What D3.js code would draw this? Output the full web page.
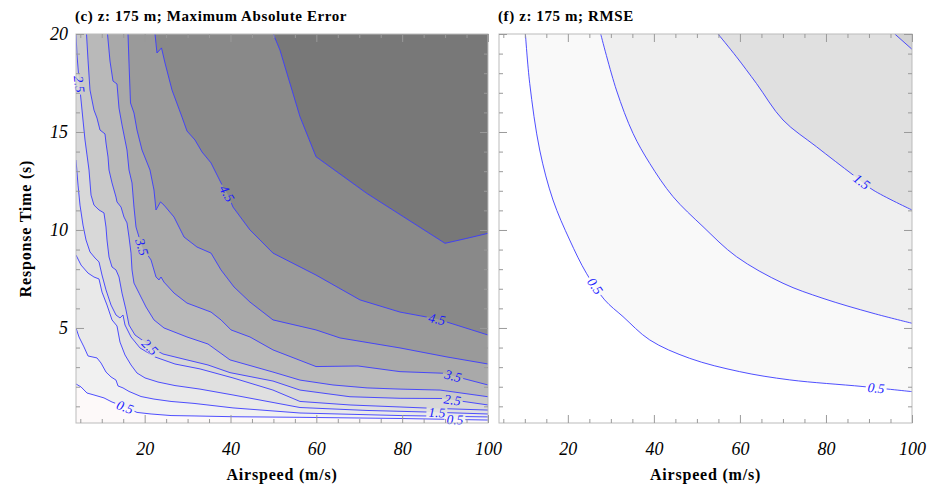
<!DOCTYPE html>
<html>
<head>
<meta charset="utf-8">
<script src="https://cdn.jsdelivr.net/npm/d3@7"></script>
<style>
  body { margin: 0; background: #fff; }
  text { font-family: "Liberation Serif", "Times New Roman", serif; }
</style>
</head>
<body>
<svg id="chart" width="932" height="485"></svg>
<script>
// axes
const speedDomain = [4, 100];
const timeDomain = [0.15, 20];
const speedTicks = [20, 40, 60, 80, 100];
const timeTicks = [5, 10, 15, 20];

// (c) maximum absolute error, contour lines as [airspeed, response time]
const maeLevels = [0.5, 1, 1.5, 2, 2.5, 3, 3.5, 4, 4.5, 5];
const mae05 = [[4.0,2.14],[5.17,1.99],[6.56,1.68],[8.19,1.58],[10.52,1.43],[12.39,1.22],[15.42,0.97],[18.21,0.69],[21.48,0.61],[26.14,0.53],[31.50,0.51],[40.58,0.47],[56.19,0.44],[79.50,0.38],[100,0.30]];
const mae10 = [[4.0,5.00],[4.70,4.54],[5.86,4.03],[6.80,3.57],[8.89,3.47],[9.83,3.21],[10.99,2.75],[12.16,2.50],[13.32,2.34],[13.79,2.04],[14.95,1.94],[16.35,1.76],[19.15,1.50],[22.17,1.37],[26.14,1.25],[31.50,1.15],[40.58,0.92],[56.19,0.66],[79.50,0.53],[100,0.46]];
const mae15 = [[4.0,8.72],[5.17,8.21],[6.80,7.80],[8.19,7.60],[9.36,7.50],[10.06,6.83],[11.22,6.17],[12.39,5.41],[13.55,5.10],[14.25,4.28],[15.42,3.62],[16.82,3.11],[18.21,2.70],[20.08,2.45],[23.11,2.24],[27.07,2.06],[32.89,1.88],[40.58,1.58],[56.19,0.94],[71.81,0.79],[85.79,0.71],[100,0.61]];
const mae20 = [[4.0,13.57],[4.47,12.29],[4.93,11.27],[5.63,10.25],[6.33,9.49],[7.26,8.88],[8.43,8.57],[9.36,8.37],[10.06,7.70],[10.99,6.94],[12.16,6.17],[13.32,5.66],[14.25,5.51],[14.95,5.66],[15.42,5.15],[16.82,4.54],[18.91,3.98],[22.41,3.52],[27.07,3.16],[32.89,2.91],[40.58,2.45],[49.90,1.83],[56.19,1.25],[67.84,1.07],[87.19,0.90],[100,0.81]];
const mae25 = [[4.0,20],[4.23,18.93],[4.70,17.65],[5.17,16.63],[5.63,15.61],[6.10,14.59],[6.56,13.83],[7.03,13.06],[7.50,11.78],[8.19,11.27],[9.36,11.02],[10.52,10.87],[10.99,10.15],[11.22,9.49],[11.69,8.62],[12.39,8.11],[13.32,7.96],[14.02,7.60],[14.72,6.78],[15.65,5.92],[16.35,5.15],[17.75,4.64],[20.08,4.28],[21.24,4.03],[24.27,3.67],[29.86,3.37],[34.76,3.11],[39.88,2.72],[49.90,2.29],[56.19,1.83],[67.84,1.49],[79.50,1.41],[89.52,1.40],[100,1.07]];
const mae30 = [[6.45,20],[6.80,18.67],[7.26,17.14],[8.19,16.12],[8.89,15.71],[9.59,15.10],[10.76,14.90],[10.99,14.44],[11.46,13.72],[11.69,13.06],[12.39,12.40],[13.32,11.68],[13.55,11.43],[14.49,11.17],[15.18,10.66],[15.88,10.36],[16.35,9.64],[16.82,8.82],[17.05,7.96],[17.51,7.29],[18.68,6.78],[20.31,6.07],[22.17,5.41],[24.50,5.00],[29.86,4.54],[34.76,4.18],[39.88,3.37],[49.90,2.75],[56.19,2.34],[63.88,2.09],[71.81,1.94],[79.50,1.88],[88.82,1.83],[100,1.49]];
const mae35 = [[11.34,20],[11.92,18.62],[12.62,17.60],[13.55,17.45],[14.02,16.22],[14.72,15.36],[15.42,14.59],[15.88,14.08],[16.35,13.06],[17.05,12.40],[17.51,11.17],[17.98,10.15],[19.38,9.13],[21.48,8.47],[22.64,7.60],[23.34,7.45],[23.81,7.60],[24.50,7.34],[26.84,6.78],[29.86,6.27],[35.46,5.81],[37.79,5.41],[40.12,4.90],[44.54,4.54],[49.90,3.88],[59.92,3.03],[69.71,3.06],[79.50,2.77],[89.52,2.69],[100,2.09]];
const mae40 = [[16.12,20],[16.35,18.52],[16.70,16.48],[17.51,15.97],[18.21,15.10],[19.38,14.08],[21.24,13.06],[22.17,12.04],[22.64,11.02],[23.69,11.43],[24.50,11.27],[26.84,10.66],[29.17,9.64],[32.19,9.13],[35.46,8.82],[37.79,7.96],[40.82,7.09],[44.54,6.32],[49.90,5.41],[59.92,4.90],[65.51,4.49],[79.50,3.98],[90.45,3.52],[100,3.16]];
const mae45 = [[22.41,20],[22.87,19.03],[23.92,19.29],[24.74,18.52],[26.37,17.14],[28.70,15.76],[29.86,15.05],[31.73,14.59],[33.36,13.98],[35.46,13.42],[37.79,12.40],[39.42,11.78],[40.58,11.17],[44.54,10.00],[46.87,9.49],[49.90,8.82],[59.92,7.70],[70.18,6.43],[79.50,5.81],[88.12,5.46],[100,4.64]];
const mae50 = [[49.97,20],[51.52,19.18],[56.19,15.78],[59.92,13.74],[71.74,11.87],[89.98,9.32],[95.04,9.57],[100,9.83]];
// [level, airspeed, time] of the in-line labels
const maeLabels = [[2.5,5.28,17.45],[4.5,39.42,11.89],[3.5,19.38,9.13],[2.5,21.24,4.03],[0.5,15.42,0.97],[4.5,88.1,5.46],[3.5,91.8,2.50],[2.5,91.8,1.48],[1.5,88.1,0.81],[0.5,92.3,0.38]];

// (f) RMSE
const rmseLevels = [0.5, 1, 1.5, 2];
const rmse05 = [[10.14,20],[11.14,17.48],[13.46,14.08],[16.55,11.53],[20.43,9.49],[24.32,7.79],[28.57,6.43],[32.82,5.58],[39.03,4.39],[48.33,3.45],[59.95,2.77],[71.57,2.35],[88.6,2.01],[100,1.75]];
const rmse10 = [[27.64,20],[31.29,17.14],[35.15,14.93],[39.03,13.40],[44.45,11.70],[51.42,10.17],[59.18,8.64],[70.02,7.28],[79.31,6.51],[90.94,5.75],[100,5.24]];
const rmse15 = [[54.91,20],[59.18,18.84],[63.83,17.48],[70.02,15.61],[77.78,14.25],[86.29,12.81],[90.94,12.04],[100,11.02]];
const rmse20 = [[96.0,20],[100,19.22]];
const rmseLabels = [[0.5,26.64,7.19],[0.5,91.7,2.0],[1.5,88.6,12.55]];

// band colours, lowest band first
const maeFills = ['#fdf9f9','#f1f1f1','#e9e9e9','#e0e0e0','#d8d8d8','#c9c9c9','#b9b9b9','#a9a9a9','#9a9a9a','#898989','#787878'];
const rmseFills = ['#ffffff','#f9f9f9','#efefef','#e0e0e0','#d2d2d2'];

const svg = d3.select('#chart');
const top0 = 34, bottom0 = 423;
const lineColor = '#3b3bff';

function drawPanel(p) {
  const x = d3.scaleLinear().domain(speedDomain).range([p.left, p.right]);
  const y = d3.scaleLinear().domain(timeDomain).range([bottom0, top0]);
  const g = svg.append('g');

  g.append('clipPath').attr('id', 'clip-' + p.id)
    .append('rect')
    .attr('x', p.left).attr('y', top0)
    .attr('width', p.right - p.left).attr('height', bottom0 - top0);

  const line = d3.line().x(d => x(d[0])).y(d => y(d[1])).curve(p.curve);
  // close each band towards the top-right corner
  const close = `L${x(speedDomain[1])},${y(timeDomain[1])}L${x(speedDomain[0])},${y(timeDomain[1])}Z`;

  const plot = g.append('g').attr('clip-path', `url(#clip-${p.id})`);
  plot.append('rect')
    .attr('x', p.left).attr('y', top0)
    .attr('width', p.right - p.left).attr('height', bottom0 - top0)
    .attr('fill', p.fills[0]);
  plot.selectAll('path.band')
    .data(p.lines)
    .join('path')
    .attr('class', 'band')
    .attr('d', d => line(d) + close)
    .attr('fill', (d, i) => p.fills[i + 1]);

  // mask to cut gaps for the labels
  const mask = g.append('mask').attr('id', 'mask-' + p.id)
    .attr('maskUnits', 'userSpaceOnUse')
    .attr('x', p.left - 5).attr('y', top0 - 5)
    .attr('width', p.right - p.left + 10).attr('height', bottom0 - top0 + 10);
  mask.append('rect')
    .attr('x', p.left - 5).attr('y', top0 - 5)
    .attr('width', p.right - p.left + 10).attr('height', bottom0 - top0 + 10)
    .attr('fill', '#fff');

  plot.append('g')
    .attr('mask', `url(#mask-${p.id})`)
    .selectAll('path')
    .data(p.lines)
    .join('path')
    .attr('d', line)
    .attr('fill', 'none')
    .attr('stroke', lineColor)
    .attr('stroke-width', 0.9);

  const fmt = d3.format('.1f');
  const labelG = g.append('g');
  p.labels.forEach(([level, v, t]) => {
    const pts = p.lines[p.levels.indexOf(level)].map(d => [x(d[0]), y(d[1])]);
    const qx = x(v), qy = y(t);
    let best = { dist: Infinity };
    for (let i = 0; i < pts.length - 1; i++) {
      const [ax, ay] = pts[i], [bx, by] = pts[i + 1];
      const dx = bx - ax, dy = by - ay;
      const len2 = dx * dx + dy * dy || 1;
      const s = Math.max(0, Math.min(1, ((qx - ax) * dx + (qy - ay) * dy) / len2));
      const px = ax + s * dx, py = ay + s * dy;
      const dist = Math.hypot(qx - px, qy - py);
      if (dist < best.dist) best = { dist, px, py, dx, dy };
    }
    let ang = Math.atan2(best.dy, best.dx) * 180 / Math.PI;
    if (ang > 90) ang -= 180;
    if (ang < -90) ang += 180;
    const tr = `translate(${best.px},${best.py}) rotate(${ang})`;
    const txt = labelG.append('text')
      .attr('transform', tr)
      .attr('text-anchor', 'middle')
      .attr('dy', '0.35em')
      .attr('font-size', 13.5)
      .attr('font-style', 'italic')
      .attr('fill', '#1a1aff')
      .text(fmt(level));
    const w = txt.node().getComputedTextLength();
    mask.append('rect')
      .attr('transform', tr)
      .attr('x', -w / 2 - 2).attr('y', -5.5)
      .attr('width', w + 4).attr('height', 11)
      .attr('fill', '#000');
  });

  // frame
  g.append('rect')
    .attr('x', p.left).attr('y', top0)
    .attr('width', p.right - p.left).attr('height', bottom0 - top0)
    .attr('fill', 'none')
    .attr('stroke', '#bbbbbb');

  // ticks on all four sides, pointing inwards
  const minorX = d3.range(5, 100, 5).filter(v => !speedTicks.includes(v));
  const minorY = d3.range(1, 20).filter(v => !timeTicks.includes(v));
  const axes = [
    [d3.axisBottom(x).tickValues(speedTicks).tickSize(-8).tickPadding(19).tickFormat(d3.format('d')), `translate(0,${bottom0})`],
    [d3.axisBottom(x).tickValues(minorX).tickSize(-4).tickFormat(''), `translate(0,${bottom0})`],
    [d3.axisTop(x).tickValues(speedTicks).tickSize(-8).tickFormat(''), `translate(0,${top0})`],
    [d3.axisTop(x).tickValues(minorX).tickSize(-4).tickFormat(''), `translate(0,${top0})`],
    [d3.axisLeft(y).tickValues(timeTicks).tickSize(-8).tickPadding(8).tickFormat(p.yLabels ? d3.format('d') : ''), `translate(${p.left},0)`],
    [d3.axisLeft(y).tickValues(minorY).tickSize(-4).tickFormat(''), `translate(${p.left},0)`],
    [d3.axisRight(y).tickValues(timeTicks).tickSize(-8).tickFormat(''), `translate(${p.right},0)`],
    [d3.axisRight(y).tickValues(minorY).tickSize(-4).tickFormat(''), `translate(${p.right},0)`]
  ];
  axes.forEach(([axis, tr]) => {
    const a = g.append('g').attr('transform', tr).call(axis);
    a.select('.domain').remove();
    a.selectAll('line').attr('stroke', '#9a9a9a');
    a.selectAll('text')
      .attr('font-family', '"Liberation Serif", "Times New Roman", serif')
      .attr('font-style', 'italic')
      .attr('font-size', 18)
      .attr('fill', '#000');
  });

  g.append('text')
    .attr('x', p.left - 1).attr('y', 21)
    .attr('font-size', 15)
    .attr('font-weight', 'bold')
    .attr('letter-spacing', 0.6)
    .text(p.title);

  g.append('text')
    .attr('x', (p.left + p.right) / 2).attr('y', 480)
    .attr('text-anchor', 'middle')
    .attr('font-size', 16)
    .attr('font-weight', 'bold')
    .attr('letter-spacing', 0.8)
    .text('Airspeed (m/s)');

  if (p.yLabels) {
    g.append('text')
      .attr('transform', `translate(31,${(top0 + bottom0) / 2}) rotate(-90)`)
      .attr('text-anchor', 'middle')
      .attr('font-size', 16)
      .attr('font-weight', 'bold')
      .attr('letter-spacing', 0.8)
      .text('Response Time (s)');
  }
}

drawPanel({
  id: 'mae', left: 76, right: 488, yLabels: true,
  title: '(c) z: 175 m; Maximum Absolute Error',
  levels: maeLevels,
  lines: [mae05, mae10, mae15, mae20, mae25, mae30, mae35, mae40, mae45, mae50],
  labels: maeLabels, fills: maeFills, curve: d3.curveLinear
});

drawPanel({
  id: 'rmse', left: 499, right: 912, yLabels: false,
  title: '(f) z: 175 m; RMSE',
  levels: rmseLevels,
  lines: [rmse05, rmse10, rmse15, rmse20],
  labels: rmseLabels, fills: rmseFills, curve: d3.curveCatmullRom.alpha(0.5)
});
</script>
</body>
</html>
